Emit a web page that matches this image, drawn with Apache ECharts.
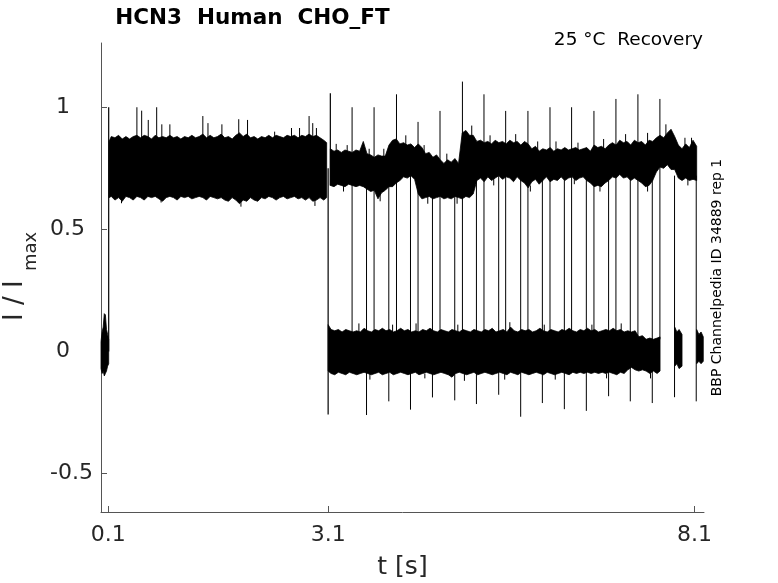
<!DOCTYPE html>
<html>
<head>
<meta charset="utf-8">
<script src="https://cdn.jsdelivr.net/npm/echarts@6/dist/echarts.min.js"></script>
<style>
html,body{margin:0;padding:0;background:#fff;}
#chart{width:778px;height:583px;}
</style>
</head>
<body>
<div id="chart"></div>
<script>
// ---- tick labels ----
const xTickValues = [0.1, 3.1, 8.1];
const yTickValues = [-0.5, 0, 0.5, 1];

// ---- noisy current bands: [t (s), upper envelope, lower envelope] ----
const bandPre = [[0.0,0.04,-0.07],[0.015,0.08,-0.09],[0.03,0.10,-0.08],[0.045,0.155,-0.10],[0.06,0.15,-0.09],[0.075,0.09,-0.08],[0.09,0.07,-0.06],[0.105,0.05,-0.05]];

const bandFirst = [[0.11,0.86,0.63],[0.14,0.88,0.635],[0.19,0.875,0.62],[0.24,0.885,0.63],[0.29,0.87,0.615],[0.34,0.88,0.635],[0.39,0.87,0.63],[0.44,0.88,0.62],[0.49,0.885,0.635],[0.54,0.875,0.63],[0.59,0.885,0.62],[0.64,0.88,0.635],[0.69,0.87,0.63],[0.74,0.885,0.635],[0.79,0.875,0.625],[0.84,0.88,0.615],[0.89,0.875,0.63],[0.94,0.885,0.635],[0.99,0.875,0.63],[1.04,0.88,0.62],[1.09,0.87,0.635],[1.14,0.88,0.63],[1.19,0.875,0.635],[1.24,0.885,0.625],[1.29,0.875,0.63],[1.34,0.88,0.635],[1.39,0.89,0.63],[1.44,0.875,0.62],[1.49,0.885,0.635],[1.54,0.875,0.63],[1.59,0.88,0.625],[1.64,0.89,0.63],[1.69,0.875,0.62],[1.74,0.88,0.615],[1.79,0.87,0.63],[1.84,0.885,0.62],[1.89,0.895,0.605],[1.94,0.88,0.62],[1.99,0.89,0.615],[2.04,0.875,0.63],[2.09,0.88,0.62],[2.14,0.87,0.615],[2.19,0.88,0.63],[2.24,0.875,0.625],[2.29,0.885,0.635],[2.34,0.875,0.63],[2.39,0.885,0.62],[2.44,0.88,0.63],[2.49,0.875,0.635],[2.54,0.885,0.625],[2.59,0.88,0.63],[2.64,0.885,0.635],[2.69,0.875,0.625],[2.74,0.885,0.63],[2.79,0.88,0.62],[2.84,0.89,0.63],[2.89,0.88,0.615],[2.94,0.885,0.62],[2.99,0.875,0.63],[3.04,0.865,0.62],[3.08,0.855,0.63]];

const bandUpper = [[3.13,0.83,0.68],[3.18,0.82,0.675],[3.23,0.825,0.685],[3.28,0.815,0.68],[3.33,0.825,0.675],[3.38,0.82,0.685],[3.43,0.815,0.68],[3.48,0.825,0.675],[3.53,0.82,0.68],[3.58,0.86,0.675],[3.63,0.81,0.665],[3.68,0.805,0.655],[3.73,0.795,0.66],[3.78,0.805,0.625],[3.83,0.80,0.65],[3.88,0.80,0.66],[3.93,0.845,0.675],[3.98,0.865,0.675],[4.03,0.87,0.69],[4.08,0.85,0.70],[4.13,0.855,0.715],[4.18,0.845,0.71],[4.23,0.85,0.72],[4.28,0.835,0.705],[4.33,0.85,0.645],[4.38,0.835,0.625],[4.43,0.81,0.63],[4.48,0.815,0.635],[4.53,0.795,0.625],[4.58,0.805,0.63],[4.63,0.785,0.635],[4.68,0.77,0.625],[4.73,0.785,0.63],[4.78,0.775,0.625],[4.83,0.79,0.635],[4.88,0.77,0.63],[4.93,0.895,0.625],[4.98,0.905,0.635],[5.03,0.885,0.63],[5.08,0.885,0.645],[5.13,0.86,0.70],[5.18,0.865,0.71],[5.23,0.855,0.695],[5.28,0.86,0.715],[5.33,0.85,0.70],[5.38,0.865,0.71],[5.43,0.855,0.72],[5.48,0.86,0.705],[5.53,0.85,0.715],[5.58,0.865,0.71],[5.63,0.855,0.695],[5.68,0.86,0.715],[5.73,0.845,0.70],[5.78,0.86,0.69],[5.83,0.85,0.67],[5.88,0.83,0.695],[5.93,0.84,0.705],[5.98,0.82,0.685],[6.03,0.83,0.70],[6.08,0.825,0.715],[6.13,0.835,0.695],[6.18,0.82,0.705],[6.23,0.83,0.70],[6.28,0.825,0.715],[6.33,0.835,0.70],[6.38,0.825,0.71],[6.43,0.83,0.715],[6.48,0.835,0.70],[6.53,0.825,0.71],[6.58,0.83,0.715],[6.63,0.835,0.70],[6.68,0.82,0.69],[6.73,0.845,0.675],[6.78,0.835,0.68],[6.83,0.84,0.675],[6.88,0.83,0.69],[6.93,0.845,0.70],[6.98,0.855,0.715],[7.03,0.845,0.71],[7.08,0.865,0.725],[7.13,0.855,0.71],[7.18,0.86,0.715],[7.23,0.845,0.70],[7.28,0.865,0.71],[7.33,0.855,0.70],[7.38,0.86,0.69],[7.43,0.845,0.675],[7.48,0.865,0.68],[7.53,0.86,0.70],[7.58,0.875,0.735],[7.63,0.885,0.755],[7.68,0.875,0.75],[7.73,0.895,0.765],[7.78,0.91,0.745],[7.83,0.88,0.745],[7.88,0.845,0.71],[7.93,0.83,0.70],[7.98,0.85,0.71],[8.03,0.835,0.70],[8.08,0.865,0.705],[8.13,0.84,0.70]];

const bandLower = [[3.10,0.11,-0.08],[3.14,0.09,-0.09],[3.19,0.085,-0.095],[3.24,0.09,-0.085],[3.29,0.08,-0.09],[3.34,0.09,-0.095],[3.39,0.085,-0.085],[3.44,0.08,-0.09],[3.49,0.085,-0.095],[3.54,0.08,-0.09],[3.59,0.095,-0.085],[3.64,0.085,-0.09],[3.69,0.08,-0.095],[3.74,0.09,-0.09],[3.79,0.085,-0.085],[3.84,0.095,-0.095],[3.89,0.085,-0.09],[3.94,0.09,-0.085],[3.99,0.08,-0.095],[4.04,0.085,-0.09],[4.09,0.095,-0.085],[4.14,0.085,-0.09],[4.19,0.09,-0.095],[4.24,0.08,-0.09],[4.29,0.085,-0.085],[4.34,0.08,-0.095],[4.39,0.09,-0.09],[4.44,0.085,-0.085],[4.49,0.095,-0.09],[4.54,0.085,-0.095],[4.59,0.08,-0.09],[4.64,0.09,-0.085],[4.69,0.085,-0.09],[4.74,0.08,-0.095],[4.79,0.09,-0.105],[4.84,0.085,-0.09],[4.89,0.08,-0.085],[4.94,0.09,-0.09],[4.99,0.085,-0.095],[5.04,0.08,-0.09],[5.09,0.09,-0.085],[5.14,0.085,-0.095],[5.19,0.08,-0.09],[5.24,0.09,-0.085],[5.29,0.085,-0.09],[5.34,0.095,-0.095],[5.39,0.08,-0.09],[5.44,0.085,-0.085],[5.49,0.09,-0.09],[5.54,0.08,-0.095],[5.59,0.10,-0.085],[5.64,0.085,-0.09],[5.69,0.08,-0.095],[5.74,0.09,-0.085],[5.79,0.085,-0.09],[5.84,0.09,-0.095],[5.89,0.08,-0.09],[5.94,0.085,-0.085],[5.99,0.095,-0.09],[6.04,0.085,-0.095],[6.09,0.08,-0.085],[6.14,0.09,-0.09],[6.19,0.085,-0.095],[6.24,0.08,-0.09],[6.29,0.09,-0.085],[6.34,0.085,-0.09],[6.39,0.095,-0.095],[6.44,0.085,-0.085],[6.49,0.08,-0.09],[6.54,0.09,-0.085],[6.59,0.085,-0.09],[6.64,0.095,-0.085],[6.69,0.085,-0.09],[6.74,0.09,-0.085],[6.79,0.08,-0.09],[6.84,0.085,-0.085],[6.89,0.09,-0.09],[6.94,0.085,-0.085],[6.99,0.095,-0.09],[7.04,0.085,-0.095],[7.09,0.09,-0.085],[7.14,0.08,-0.09],[7.19,0.085,-0.075],[7.24,0.08,-0.065],[7.29,0.085,-0.075],[7.34,0.06,-0.08],[7.39,0.065,-0.075],[7.44,0.05,-0.08],[7.49,0.055,-0.09],[7.54,0.05,-0.08],[7.59,0.055,-0.09],[7.63,0.06,-0.08]];

const blockA = [[7.83,0.10,-0.06],[7.86,0.08,-0.05],[7.89,0.09,-0.07],[7.93,0.07,-0.06]];
const blockB = [[8.13,0.09,-0.05],[8.16,0.07,-0.04],[8.19,0.08,-0.05],[8.22,0.06,-0.04]];

// ---- vertical transitions / spikes: [t (s), from, to] ----
const stepLines = [[0.105,0.0,1.0],[3.10,0.75,-0.258],[3.13,0.68,1.057]];
const upLines = [[3.427,0.05,1.00],[3.727,0.05,1.00],[4.033,0.05,1.053],[4.327,0.05,0.94],[4.627,0.05,0.985],[4.933,0.05,1.105],[5.227,0.05,1.053],[5.523,0.05,0.985],[5.827,0.05,0.985],[6.128,0.05,1.00],[6.423,0.05,1.00],[6.728,0.05,0.985],[7.028,0.05,1.034],[7.328,0.05,1.053],[7.628,0.05,1.034]];
const downLines = [[3.624,0.72,-0.26],[3.928,0.72,-0.204],[4.224,0.72,-0.238],[4.524,0.72,-0.188],[4.828,0.72,-0.20],[5.124,0.72,-0.215],[5.428,0.72,-0.177],[5.728,0.72,-0.267],[6.024,0.72,-0.211],[6.324,0.72,-0.236],[6.624,0.72,-0.243],[6.928,0.72,-0.183],[7.224,0.72,-0.204],[7.524,0.72,-0.211],[7.828,0.72,-0.187],[8.124,0.72,-0.204]];
const noiseSpikes = [[0.49,0.85,1.0],[0.555,0.85,0.986],[0.645,0.85,0.948],[0.76,0.85,1.0],[0.83,0.85,0.93],[0.94,0.85,0.93],[1.39,0.85,0.964],[1.46,0.85,0.935],[1.65,0.85,0.93],[1.88,0.85,0.951],[2.0,0.85,0.948],[2.37,0.85,0.90],[2.6,0.85,0.915],[2.71,0.85,0.915],[2.84,0.85,0.964],[2.89,0.85,0.935],[2.94,0.85,0.915],[0.28,0.65,0.607],[0.82,0.65,0.61],[1.91,0.65,0.593],[2.92,0.65,0.596]];
const edgeHairs = [[3.21,0.8,0.85],[3.36,0.8,0.845],[3.66,0.78,0.83],[3.86,0.78,0.83],[4.16,0.83,0.885],[4.41,0.79,0.845],[4.72,0.76,0.81],[5.06,0.87,0.925],[5.31,0.84,0.885],[5.66,0.84,0.89],[5.96,0.81,0.86],[6.21,0.81,0.86],[6.51,0.81,0.855],[6.86,0.82,0.87],[7.16,0.84,0.89],[7.46,0.85,0.895],[7.71,0.88,0.93],[7.97,0.835,0.875],[8.06,0.85,0.875],[3.31,0.69,0.655],[3.81,0.66,0.615],[4.46,0.64,0.605],[4.86,0.64,0.605],[5.36,0.71,0.68],[5.86,0.68,0.655],[6.46,0.71,0.685],[6.81,0.69,0.655],[7.46,0.69,0.655],[8.01,0.71,0.68],[3.52,0.08,0.115],[3.98,0.08,0.11],[4.3,0.08,0.115],[4.87,0.08,0.11],[5.58,0.09,0.12],[6.05,0.08,0.11],[6.7,0.08,0.11],[7.1,0.08,0.115],[3.67,-0.09,-0.115],[4.42,-0.09,-0.11],[4.96,-0.09,-0.12],[5.51,-0.09,-0.115],[6.2,-0.09,-0.115],[6.9,-0.09,-0.11],[7.5,-0.08,-0.11]];

const FONT = '"DejaVu Sans", "Noto Sans", sans-serif';

function bandSeries(band){
  return {
    type:'custom', coordinateSystem:'cartesian2d', silent:true, animation:false,
    data: band, encode:{x:0, y:[1,2]},
    renderItem: function(params, api){
      if (params.dataIndex !== 0) return null;
      const pts = [];
      for (let i = 0; i < band.length; i++) pts.push(api.coord([band[i][0], band[i][1]]));
      for (let i = band.length - 1; i >= 0; i--) pts.push(api.coord([band[i][0], band[i][2]]));
      return {type:'polygon', shape:{points:pts}, style:{fill:'#000', stroke:'#000', lineWidth:0.8}};
    }
  };
}
function segSeries(segs, w){
  return {
    type:'custom', coordinateSystem:'cartesian2d', silent:true, animation:false,
    data: segs, encode:{x:0, y:[1,2]},
    renderItem: function(params, api){
      const a = api.coord([api.value(0), api.value(1)]);
      const b = api.coord([api.value(0), api.value(2)]);
      return {type:'line', shape:{x1:a[0], y1:a[1], x2:b[0], y2:b[1]}, style:{stroke:'#000', lineWidth:w}};
    }
  };
}

const yPad = {'1':23, '0.5':8, '0':23, '-0.5':0};

const chart = echarts.init(document.getElementById('chart'), null, {renderer:'canvas'});
chart.setOption({
  backgroundColor:'#fff',
  animation:false,
  grid:{left:101, right:74, top:43, bottom:71, containLabel:false},
  xAxis:{
    type:'value', min:0, max:8.23,
    axisLine:{onZero:false, lineStyle:{color:'#555', width:1}},
    axisTick:{inside:true, length:6, customValues:xTickValues, lineStyle:{color:'#555', width:1}},
    axisLabel:{customValues:xTickValues, color:'#262626', fontSize:22, fontFamily:FONT, margin:12,
      formatter:function(v){ return String(v); }},
    splitLine:{show:false}
  },
  yAxis:{
    type:'value', min:-0.657, max:1.263,
    axisLine:{show:true, onZero:false, lineStyle:{color:'#555', width:1}},
    axisTick:{show:true, inside:true, length:6, customValues:yTickValues, lineStyle:{color:'#555', width:1}},
    axisLabel:{customValues:yTickValues, color:'#262626', fontSize:22, fontFamily:FONT, margin:8,
      formatter:function(v){ const s = String(v); return '{p' + yPad[s] + '|' + s + '}'; },
      rich:{
        p23:{fontSize:22, fontFamily:FONT, color:'#262626', padding:[0,23,0,0]},
        p8:{fontSize:22, fontFamily:FONT, color:'#262626', padding:[0,8,0,0]},
        p0:{fontSize:22, fontFamily:FONT, color:'#262626', padding:[0,0,0,0]}
      }},
    splitLine:{show:false}
  },
  graphic:[
    {type:'text', x:252.5, y:18, style:{text:'HCN3  Human  CHO_FT', font:'bold 21.5px ' + FONT, fill:'#000', align:'center', verticalAlign:'middle', textAlign:'center', textVerticalAlign:'middle'}},
    {type:'text', x:703, y:40.5, style:{text:'25 °C  Recovery', font:'18.5px ' + FONT, fill:'#000', align:'right', verticalAlign:'middle', textAlign:'right', textVerticalAlign:'middle'}},
    {type:'text', x:402.5, y:567, style:{text:'t [s]', font:'25px ' + FONT, fill:'#262626', align:'center', verticalAlign:'middle', textAlign:'center', textVerticalAlign:'middle'}},
    {type:'text', x:15.5, y:321, rotation:Math.PI/2, style:{text:'I / I', font:'26px ' + FONT, fill:'#262626', align:'left', verticalAlign:'middle', textAlign:'left', textVerticalAlign:'middle'}},
    {type:'text', x:31, y:271, rotation:Math.PI/2, style:{text:'max', font:'18px ' + FONT, fill:'#262626', align:'left', verticalAlign:'middle', textAlign:'left', textVerticalAlign:'middle'}},
    {type:'text', x:717.5, y:277.5, rotation:Math.PI/2, style:{text:'BBP Channelpedia ID 34889 rep 1', font:'14px ' + FONT, fill:'#000', align:'center', verticalAlign:'middle', textAlign:'center', textVerticalAlign:'middle'}}
  ],
  series:[
    bandSeries(bandPre),
    bandSeries(bandFirst),
    bandSeries(bandUpper),
    bandSeries(bandLower),
    bandSeries(blockA),
    bandSeries(blockB),
    segSeries(stepLines, 1.2),
    segSeries(upLines, 1),
    segSeries(downLines, 1),
    segSeries(noiseSpikes, 1),
    segSeries(edgeHairs, 1)
  ]
});
</script>
</body>
</html>
